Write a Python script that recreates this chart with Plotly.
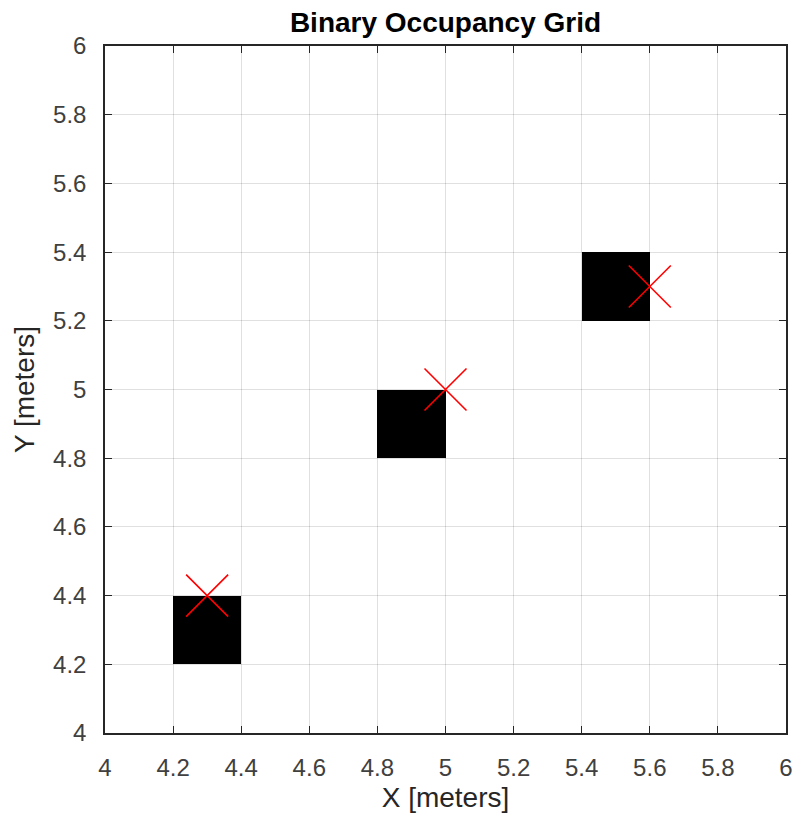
import numpy as np
import plotly.graph_objects as go

# occupancy grid: 5 cells per meter, world limits 4..6
resolution = 5
x_limits = [4, 6]
y_limits = [4, 6]

# lower-left corners of occupied cells
occupied_x = [4.2, 4.8, 5.4]
occupied_y = [4.2, 4.8, 5.2]

# query points
point_x = [4.3, 5.0, 5.6]
point_y = [4.4, 5.0, 5.3]

tick_vals = [4, 4.2, 4.4, 4.6, 4.8, 5, 5.2, 5.4, 5.6, 5.8, 6]
tick_text = ["4", "4.2", "4.4", "4.6", "4.8", "5", "5.2", "5.4", "5.6", "5.8", "6"]

n = int((x_limits[1] - x_limits[0]) * resolution)
cell = 1 / resolution
centers = [x_limits[0] + cell * (i + 0.5) for i in range(n)]
z = np.zeros((n, n))
for ox, oy in zip(occupied_x, occupied_y):
    col = int(round((ox - x_limits[0]) * resolution))
    row = int(round((oy - y_limits[0]) * resolution))
    z[row, col] = 1

fig = go.Figure()
fig.add_trace(go.Heatmap(
    x=centers, y=centers, z=z,
    colorscale=[[0, "rgba(255,255,255,0)"], [1, "black"]],
    zmin=0, zmax=1, showscale=False, hoverinfo="skip",
))
fig.add_trace(go.Scatter(
    x=point_x, y=point_y, mode="markers", hoverinfo="skip",
    marker=dict(symbol="x-thin", size=42, line=dict(color="red", width=1.6)),
))

axis_style = dict(
    tickmode="array", tickvals=tick_vals, ticktext=tick_text,
    showgrid=True, gridcolor="rgba(0,0,0,0.12)", gridwidth=1,
    zeroline=False, showline=True, linecolor="#262626", linewidth=1.5,
    mirror="ticks", ticks="inside", ticklen=7, tickcolor="#262626",
    tickfont=dict(size=24, color="#404040"), ticklabelstandoff=12,
)

fig.update_layout(
    autosize=False, width=800, height=824,
    margin=dict(l=105, r=7, t=46, b=91),
    paper_bgcolor="white", plot_bgcolor="white",
    font=dict(family="Liberation Sans, Arial, sans-serif"),
    showlegend=False,
    title=dict(text="<b>Binary Occupancy Grid</b>", xref="paper", x=0.5,
               xanchor="center", y=1 - 22 / 824, yanchor="middle",
               font=dict(size=28, color="black")),
)
fig.update_xaxes(range=x_limits, title=dict(text="X [meters]", standoff=8,
                 font=dict(size=28, color="#262626")), **axis_style)
fig.update_yaxes(range=y_limits, title=dict(text="Y [meters]", standoff=10,
                 font=dict(size=28, color="#262626")), **axis_style)

# drop the default page margin / scrollbars so the figure fills the window
fig.write_html(
    "out.html",
    config={"displayModeBar": False, "responsive": False},
    post_script="document.body.style.margin='0';"
                "document.body.style.overflow='hidden';",
)
